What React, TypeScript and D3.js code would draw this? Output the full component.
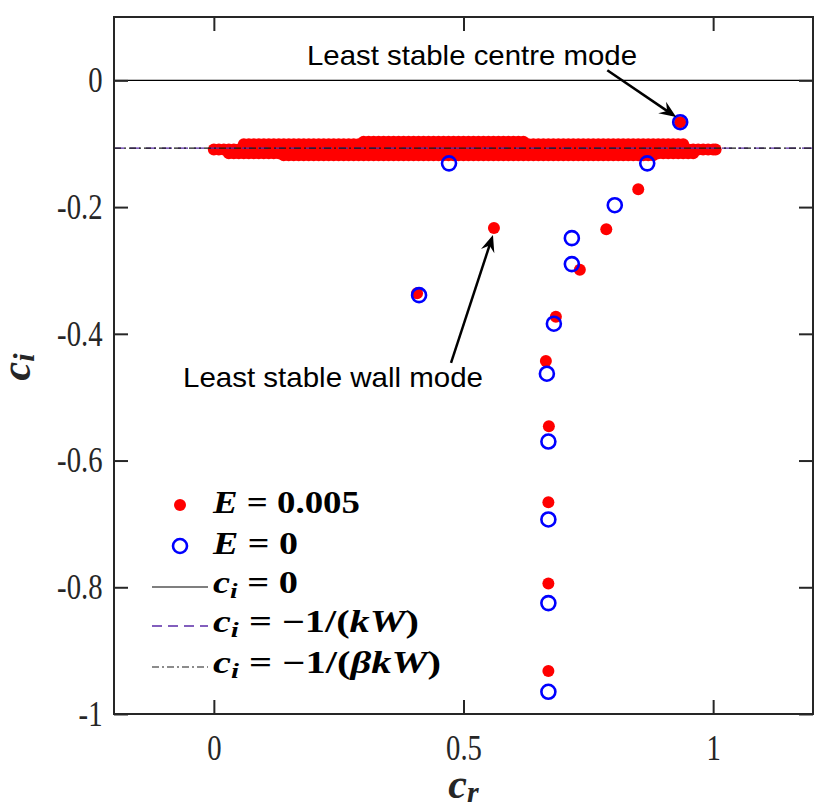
import React, { useRef, useEffect } from 'react';
import * as d3 from 'd3';

const xTicks = [0, 0.5, 1];
const xTickLabels = ['0', '0.5', '1'];
const yTicks = [0, -0.2, -0.4, -0.6, -0.8, -1];
const yTickLabels = ['0', '-0.2', '-0.4', '-0.6', '-0.8', '-1'];

// E = 0.005, discrete modes
const elasticCr = [0.934, 0.561, 0.85, 0.786, 0.733, 0.407, 0.685, 0.665, 0.671, 0.67, 0.67, 0.67];
const elasticCi = [-0.066, -0.233, -0.172, -0.235, -0.299, -0.336, -0.373, -0.443, -0.546, -0.666, -0.794, -0.932];

// E = 0.005, continuous spectrum band (rows of dense points)
const bandMidCr = [
  0, 0.01, 0.02, 0.03, 0.04, 0.05, 0.06, 0.07, 0.08, 0.09, 0.1, 0.11, 0.12, 0.13, 0.14, 0.15, 0.16,
  0.17, 0.18, 0.19, 0.2, 0.21, 0.22, 0.23, 0.24, 0.25, 0.26, 0.27, 0.28, 0.29, 0.3, 0.31, 0.32, 0.33,
  0.34, 0.35, 0.36, 0.37, 0.38, 0.39, 0.4, 0.41, 0.42, 0.43, 0.44, 0.45, 0.46, 0.47, 0.48, 0.49, 0.5,
  0.51, 0.52, 0.53, 0.54, 0.55, 0.56, 0.57, 0.58, 0.59, 0.6, 0.61, 0.62, 0.63, 0.64, 0.65, 0.66, 0.67,
  0.68, 0.69, 0.7, 0.71, 0.72, 0.73, 0.74, 0.75, 0.76, 0.77, 0.78, 0.79, 0.8, 0.81, 0.82, 0.83, 0.84,
  0.85, 0.86, 0.87, 0.88, 0.89, 0.9, 0.91, 0.92, 0.93, 0.94, 0.95, 0.96, 0.97, 0.98, 0.99, 1.0, 1.005,
];
const bandMidCi = -0.109;
const bandUpperCr = [
  0.06, 0.07, 0.08, 0.09, 0.1, 0.11, 0.12, 0.13, 0.14, 0.15, 0.16, 0.17, 0.18, 0.19, 0.2, 0.21, 0.22,
  0.23, 0.24, 0.25, 0.26, 0.27, 0.28, 0.29, 0.3, 0.31, 0.32, 0.33, 0.34, 0.35, 0.36, 0.37, 0.38, 0.39,
  0.4, 0.41, 0.42, 0.43, 0.44, 0.45, 0.46, 0.47, 0.48, 0.49, 0.5, 0.51, 0.52, 0.53, 0.54, 0.55, 0.56,
  0.57, 0.58, 0.59, 0.6, 0.61, 0.62, 0.63, 0.64, 0.65, 0.66, 0.67, 0.68, 0.69, 0.7, 0.71, 0.72, 0.73,
  0.74, 0.75, 0.76, 0.77, 0.78, 0.79, 0.8, 0.81, 0.82, 0.83, 0.84, 0.85, 0.86, 0.87, 0.88, 0.89, 0.9,
  0.91, 0.92, 0.93, 0.94,
];
const bandUpperCi = -0.101;
const bandLowerCr = [
  0.03, 0.04, 0.05, 0.06, 0.07, 0.08, 0.09, 0.1, 0.11, 0.12, 0.13, 0.14, 0.15, 0.16, 0.17, 0.18, 0.19,
  0.2, 0.21, 0.22, 0.23, 0.24, 0.25, 0.26, 0.27, 0.28, 0.29, 0.3, 0.31, 0.32, 0.33, 0.34, 0.35, 0.36,
  0.37, 0.38, 0.39, 0.4, 0.41, 0.42, 0.43, 0.44, 0.45, 0.46, 0.47, 0.48, 0.49, 0.5, 0.51, 0.52, 0.53,
  0.54, 0.55, 0.56, 0.57, 0.58, 0.59, 0.6, 0.61, 0.62, 0.63, 0.64, 0.65, 0.66, 0.67, 0.68, 0.69, 0.7,
  0.71, 0.72, 0.73, 0.74, 0.75, 0.76, 0.77, 0.78, 0.79, 0.8, 0.81, 0.82, 0.83, 0.84, 0.85, 0.86, 0.87,
  0.88, 0.89, 0.9, 0.91, 0.92, 0.93, 0.94, 0.95, 0.96,
];
const bandLowerCi = -0.115;
const bandBottomCr = [
  0.14, 0.15, 0.16, 0.17, 0.18, 0.19, 0.2, 0.21, 0.22, 0.23, 0.24, 0.25, 0.26, 0.27, 0.28, 0.29, 0.3,
  0.31, 0.32, 0.33, 0.34, 0.35, 0.36, 0.37, 0.38, 0.39, 0.4, 0.41, 0.42, 0.43, 0.44, 0.45, 0.46, 0.47,
  0.48, 0.49, 0.5, 0.51, 0.52, 0.53, 0.54, 0.55, 0.56, 0.57, 0.58, 0.59, 0.6, 0.61, 0.62, 0.63, 0.64,
  0.65, 0.66, 0.67, 0.68, 0.69, 0.7, 0.71, 0.72, 0.73, 0.74, 0.75, 0.76, 0.77, 0.78, 0.79, 0.8, 0.81,
  0.82, 0.83, 0.84, 0.85, 0.86, 0.87, 0.88,
];
const bandBottomCi = -0.118;
const bandTopCr = [
  0.3, 0.31, 0.32, 0.33, 0.34, 0.35, 0.36, 0.37, 0.38, 0.39, 0.4, 0.41, 0.42, 0.43, 0.44, 0.45, 0.46,
  0.47, 0.48, 0.49, 0.5, 0.51, 0.52, 0.53, 0.54, 0.55, 0.56, 0.57, 0.58, 0.59, 0.6, 0.61, 0.62,
];
const bandTopCi = -0.097;

// E = 0
const rigidCr = [0.934, 0.471, 0.868, 0.803, 0.717, 0.717, 0.411, 0.681, 0.667, 0.67, 0.67, 0.67, 0.67];
const rigidCi = [-0.066, -0.131, -0.131, -0.197, -0.249, -0.29, -0.339, -0.384, -0.463, -0.57, -0.693, -0.825, -0.965];

// reference lines
const ciZero = 0;
const ciKW = -0.107;
const ciBetaKW = -0.107;

type Pt = { cr: number; ci: number };

const App: React.FC = () => {
  const ref = useRef<SVGSVGElement | null>(null);

  useEffect(() => {
    if (!ref.current) return;
    const svg = d3.select(ref.current);
    svg.selectAll('*').remove();

    const width = 830;
    const height = 812;
    const margin = { top: 17, right: 17, bottom: 98, left: 114 };
    const axisColor = '#262626';

    const x = d3.scaleLinear().domain([-0.2, 1.2]).range([margin.left, width - margin.right]);
    const y = d3.scaleLinear().domain([-1, 0.1]).range([height - margin.bottom, margin.top]);

    svg.append('rect').attr('width', width).attr('height', height).attr('fill', '#fff');

    // band points
    const band: Pt[] = [
      ...bandMidCr.map((cr) => ({ cr, ci: bandMidCi })),
      ...bandUpperCr.map((cr) => ({ cr, ci: bandUpperCi })),
      ...bandLowerCr.map((cr) => ({ cr, ci: bandLowerCi })),
      ...bandBottomCr.map((cr) => ({ cr, ci: bandBottomCi })),
      ...bandTopCr.map((cr) => ({ cr, ci: bandTopCi })),
    ];
    const elastic: Pt[] = elasticCr.map((cr, i) => ({ cr, ci: elasticCi[i] }));
    const rigid: Pt[] = rigidCr.map((cr, i) => ({ cr, ci: rigidCi[i] }));

    svg
      .append('g')
      .selectAll('circle')
      .data([...band, ...elastic])
      .join('circle')
      .attr('cx', (d) => x(d.cr))
      .attr('cy', (d) => y(d.ci))
      .attr('r', 6)
      .attr('fill', '#ff0000');

    svg
      .append('g')
      .selectAll('circle')
      .data(rigid)
      .join('circle')
      .attr('cx', (d) => x(d.cr))
      .attr('cy', (d) => y(d.ci))
      .attr('r', 7)
      .attr('fill', 'none')
      .attr('stroke', '#0000ff')
      .attr('stroke-width', 2.6);

    // reference lines
    const x0 = x(-0.2);
    const x1 = x(1.2);
    svg.append('line').attr('x1', x0).attr('x2', x1).attr('y1', y(ciZero)).attr('y2', y(ciZero))
      .attr('stroke', '#000').attr('stroke-width', 1.2);
    svg.append('line').attr('x1', x0).attr('x2', x1).attr('y1', y(ciKW)).attr('y2', y(ciKW))
      .attr('stroke', '#5a2aa8').attr('stroke-width', 1.4).attr('stroke-dasharray', '10,6');
    svg.append('line').attr('x1', x0).attr('x2', x1).attr('y1', y(ciBetaKW)).attr('y2', y(ciBetaKW))
      .attr('stroke', '#1a1a1a').attr('stroke-width', 1.2).attr('stroke-dasharray', '7,3,2,3');

    // axes
    const tickFont = 'Liberation Serif, Times New Roman, serif';
    const bottom = svg
      .append('g')
      .attr('transform', `translate(0,${height - margin.bottom})`)
      .call(
        d3.axisBottom(x).tickValues(xTicks)
          .tickFormat((_, i) => xTickLabels[i])
          .tickSizeInner(-14).tickSizeOuter(0).tickPadding(21)
      );
    const left = svg
      .append('g')
      .attr('transform', `translate(${margin.left},0)`)
      .call(
        d3.axisLeft(y).tickValues(yTicks)
          .tickFormat((_, i) => yTickLabels[i])
          .tickSizeInner(-14).tickSizeOuter(0).tickPadding(14)
      );
    svg.append('g').attr('transform', `translate(0,${margin.top})`)
      .call(d3.axisTop(x).tickValues(xTicks).tickFormat(() => '').tickSizeInner(-14).tickSizeOuter(0));
    svg.append('g').attr('transform', `translate(${width - margin.right},0)`)
      .call(d3.axisRight(y).tickValues(yTicks).tickFormat(() => '').tickSizeInner(-14).tickSizeOuter(0));

    svg.selectAll('.domain').remove();
    svg.selectAll('.tick line').attr('stroke', axisColor).attr('stroke-width', 2);
    [bottom, left].forEach((g) =>
      g.selectAll('text')
        .attr('font-family', tickFont)
        .attr('font-size', 35)
        .attr('fill', axisColor)
        .attr('transform', 'scale(0.82,1)')
    );

    svg.append('rect')
      .attr('x', margin.left).attr('y', margin.top)
      .attr('width', width - margin.left - margin.right)
      .attr('height', height - margin.top - margin.bottom)
      .attr('fill', 'none').attr('stroke', axisColor).attr('stroke-width', 2);

    // axis labels
    const mathFont = 'Liberation Serif, DejaVu Serif, serif';
    const xl = svg.append('text')
      .attr('x', x(0.5)).attr('y', 798)
      .attr('text-anchor', 'middle')
      .attr('font-family', mathFont).attr('font-size', 42)
      .attr('font-weight', 'bold').attr('font-style', 'italic').attr('fill', axisColor);
    xl.append('tspan').text('c');
    xl.append('tspan').attr('font-size', 30).attr('dy', 4).text('r');

    const yl = svg.append('text')
      .attr('transform', 'translate(30,367) rotate(-90)')
      .attr('text-anchor', 'middle')
      .attr('font-family', mathFont).attr('font-size', 42)
      .attr('font-weight', 'bold').attr('font-style', 'italic').attr('fill', axisColor);
    yl.append('tspan').text('c');
    yl.append('tspan').attr('font-size', 30).attr('dy', 4).text('i');

    // annotations
    const annFont = 'Liberation Sans, Arial, sans-serif';
    svg.append('text').attr('x', 307).attr('y', 65)
      .attr('font-family', annFont).attr('font-size', 28)
      .attr('textLength', 330).attr('lengthAdjust', 'spacingAndGlyphs')
      .text('Least stable centre mode');
    svg.append('text').attr('x', 183).attr('y', 387)
      .attr('font-family', annFont).attr('font-size', 28)
      .attr('textLength', 300).attr('lengthAdjust', 'spacingAndGlyphs')
      .text('Least stable wall mode');

    const arrow = (t: Pt, h: Pt) => {
      const ax = x(t.cr), ay = y(t.ci), bx = x(h.cr), by = y(h.ci);
      const len = Math.hypot(bx - ax, by - ay);
      const ux = (bx - ax) / len, uy = (by - ay) / len;
      const nx = -uy, ny = ux;
      const L = 17, W = 7;
      svg.append('line')
        .attr('x1', ax).attr('y1', ay)
        .attr('x2', bx - ux * L * 0.6).attr('y2', by - uy * L * 0.6)
        .attr('stroke', '#000').attr('stroke-width', 2.5);
      const pts = [
        [bx, by],
        [bx - ux * L + nx * W, by - uy * L + ny * W],
        [bx - ux * L * 0.65, by - uy * L * 0.65],
        [bx - ux * L - nx * W, by - uy * L - ny * W],
      ];
      svg.append('polygon').attr('points', pts.map((p) => p.join(',')).join(' ')).attr('fill', '#000');
    };
    arrow({ cr: 0.788, ci: 0.016 }, { cr: 0.926, ci: -0.058 });
    arrow({ cr: 0.475, ci: -0.446 }, { cr: 0.559, ci: -0.244 });

    // legend
    const lg = svg.append('g');
    lg.append('circle').attr('cx', 180).attr('cy', 505).attr('r', 6).attr('fill', '#ff0000');
    lg.append('circle').attr('cx', 180).attr('cy', 546).attr('r', 7).attr('fill', 'none')
      .attr('stroke', '#0000ff').attr('stroke-width', 2.6);
    lg.append('line').attr('x1', 152).attr('x2', 208).attr('y1', 587).attr('y2', 587)
      .attr('stroke', '#000').attr('stroke-width', 1.2);
    lg.append('line').attr('x1', 152).attr('x2', 208).attr('y1', 626).attr('y2', 626)
      .attr('stroke', '#5a2aa8').attr('stroke-width', 1.4).attr('stroke-dasharray', '10,6');
    lg.append('line').attr('x1', 152).attr('x2', 208).attr('y1', 667).attr('y2', 667)
      .attr('stroke', '#1a1a1a').attr('stroke-width', 1.2).attr('stroke-dasharray', '7,3,2,3');

    const entry = (yy: number, w: number) =>
      lg.append('text').attr('x', 213).attr('y', yy)
        .attr('font-family', mathFont).attr('font-size', 31).attr('font-weight', 'bold')
        .attr('fill', '#000')
        .attr('textLength', w).attr('lengthAdjust', 'spacingAndGlyphs');

    const e1 = entry(513, 147);
    e1.append('tspan').attr('font-style', 'italic').text('E');
    e1.append('tspan').text(' = 0.005');
    const e2 = entry(554, 85);
    e2.append('tspan').attr('font-style', 'italic').text('E');
    e2.append('tspan').text(' = 0');
    const ci = (yy: number, w: number, rest: string) => {
      const t = entry(yy, w);
      t.append('tspan').attr('font-style', 'italic').text('c');
      t.append('tspan').attr('font-style', 'italic').attr('font-size', 22).attr('dy', 5).text('i');
      t.append('tspan').attr('dy', -5).text(rest);
      return t;
    };
    ci(593, 85, ' = 0');
    const k1 = ci(632, 206, ' = \u22121/(');
    k1.append('tspan').attr('font-style', 'italic').text('kW');
    k1.append('tspan').text(')');
    const k2 = ci(673, 228, ' = \u22121/(');
    k2.append('tspan').attr('font-style', 'italic').text('\u03B2kW');
    k2.append('tspan').text(')');
  }, []);

  return (
    <svg
      ref={ref}
      width={830}
      height={812}
      style={{ position: 'absolute', left: 0, top: 0, display: 'block' }}
    />
  );
};

export default App;
